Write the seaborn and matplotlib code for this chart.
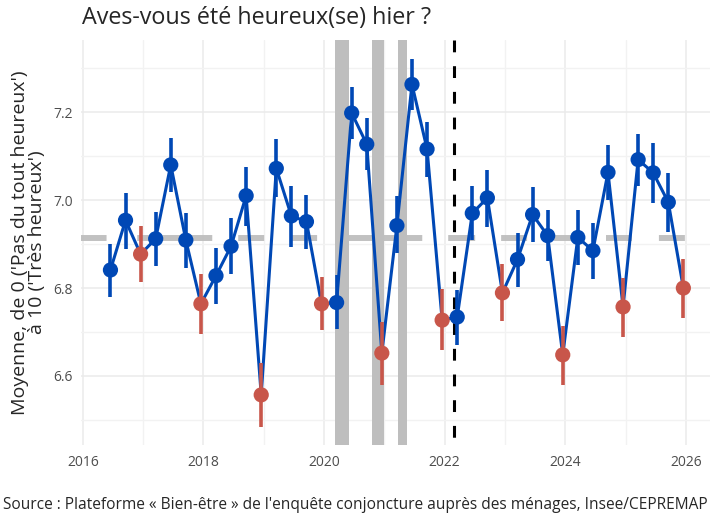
import pandas as pd
import seaborn as sns
import matplotlib.pyplot as plt

# dates des vagues (trimestrielles)
mois = ["2016-06", "2016-09", "2016-12",
        "2017-03", "2017-06", "2017-09", "2017-12",
        "2018-03", "2018-06", "2018-09", "2018-12",
        "2019-03", "2019-06", "2019-09", "2019-12",
        "2020-03", "2020-06", "2020-09", "2020-12",
        "2021-03", "2021-06", "2021-09", "2021-12",
        "2022-03", "2022-06", "2022-09", "2022-12",
        "2023-03", "2023-06", "2023-09", "2023-12",
        "2024-03", "2024-06", "2024-09", "2024-12",
        "2025-03", "2025-06", "2025-09", "2025-12"]

moyenne = [6.841, 6.954, 6.877, 6.912, 7.080, 6.909, 6.764, 6.828, 6.895, 7.010,
           6.557, 7.072, 6.964, 6.951, 6.764, 6.767, 7.198, 7.127, 6.652, 6.942,
           7.263, 7.116, 6.727, 6.734, 6.970, 7.005, 6.789, 6.865, 6.967, 6.919,
           6.648, 6.915, 6.885, 7.063, 6.757, 7.092, 7.062, 6.995, 6.800]
borne_basse = [6.780, 6.889, 6.813, 6.851, 7.018, 6.845, 6.695, 6.764, 6.831, 6.942,
               6.485, 7.006, 6.894, 6.889, 6.705, 6.706, 7.139, 7.068, 6.580, 6.879,
               7.205, 7.053, 6.659, 6.670, 6.909, 6.939, 6.725, 6.803, 6.904, 6.862,
               6.580, 6.853, 6.820, 7.000, 6.689, 7.032, 6.994, 6.928, 6.732]
borne_haute = [6.900, 7.017, 6.941, 6.973, 7.142, 6.970, 6.833, 6.892, 6.960, 7.076,
               6.629, 7.138, 7.033, 7.011, 6.824, 6.830, 7.257, 7.187, 6.723, 7.009,
               7.320, 7.178, 6.797, 6.795, 7.032, 7.068, 6.855, 6.926, 7.030, 6.977,
               6.714, 6.977, 6.948, 7.125, 6.823, 7.150, 7.129, 7.061, 6.867]

moyenne_globale = 6.914
confinements = [(2020.19, 2020.41), (2020.80, 2021.00), (2021.23, 2021.38)]
rupture = 2022.16  # changement de méthode

bleu = "#0048b5"
rouge = "#c8564a"

df = pd.DataFrame({"mois": pd.to_datetime(mois), "moyenne": moyenne,
                   "basse": borne_basse, "haute": borne_haute})
df["x"] = df["mois"].dt.year + (df["mois"].dt.month - 0.5) / 12
df["decembre"] = df["mois"].dt.month == 12

sns.set_theme(style="whitegrid")
plt.rcParams["font.family"] = ["Open Sans", "DejaVu Sans"]
plt.rcParams["lines.scale_dashes"] = False

fig = plt.figure(figsize=(7.2, 5.23), dpi=100)
ax = fig.add_axes([81 / 720, (523 - 445) / 523, 629 / 720, 405 / 523])

# grille type theme_minimal
ax.set_xticks(range(2016, 2027, 2))
ax.set_xticks(range(2017, 2027, 2), minor=True)
ax.set_yticks([6.6, 6.8, 7.0, 7.2])
ax.set_yticks([6.5, 6.7, 6.9, 7.1, 7.3], minor=True)
ax.grid(True, which="major", color="#ebebeb", linewidth=1.1)
ax.grid(True, which="minor", color="#f2f2f2", linewidth=1.0)
for s in ax.spines.values():
    s.set_visible(False)

for debut, fin in confinements:
    ax.axvspan(debut, fin, color="#bebebe", lw=0, zorder=1)

ax.hlines(moyenne_globale, 2015.97, 2026, color="#bebebe", linewidth=4.3, alpha=0.95, zorder=1.5,
          linestyle=(0, (18.4, 22.1, 54, 18.7, 18.7, 19.4, 18.7, 18.7, 57, 18.7, 19.4, 18.7,
                         18.7, 19.4, 19.4, 18, 18.7, 19.4, 18.7, 19.4)))

ax.plot([rupture, rupture], [7.364, 6.443], color="black", linewidth=2.2,
        linestyle=(0, (8.5, 10)), zorder=2)

sns.lineplot(data=df, x="x", y="moyenne", color=bleu, linewidth=2.2, ax=ax, zorder=3)
ax.vlines(df["x"], df["basse"], df["haute"], colors=[rouge if d else bleu for d in df["decembre"]],
          linewidth=2.6, zorder=4)
sns.scatterplot(data=df, x="x", y="moyenne", hue="decembre", palette={False: bleu, True: rouge},
                s=120, linewidth=0, legend=False, ax=ax, zorder=5)

ax.set_xlim(2015.97, 2026.40)
ax.set_ylim(6.443, 7.364)
ax.tick_params(axis="both", which="both", length=0, labelsize=10, labelcolor="#4d4d4d")
ax.tick_params(axis="x", pad=7)
ax.tick_params(axis="y", pad=6)
ax.set_xlabel("")
ax.set_ylabel("Moyenne, de 0 ('Pas du tout heureux')\nà 10 ('Très heureux')",
              fontsize=14, linespacing=0.9, labelpad=5)

fig.text(82 / 720, 1 - 18 / 523, "Aves-vous été heureux(se) hier ?", fontsize=16.8,
         va="center", ha="left")
fig.text(3 / 720, 1 - 505 / 523,
         "Source : Plateforme « Bien-être » de l'enquête conjoncture auprès des ménages, Insee/CEPREMAP",
         fontsize=11.2, va="center", ha="left")

fig.savefig("out.png", dpi=100)
